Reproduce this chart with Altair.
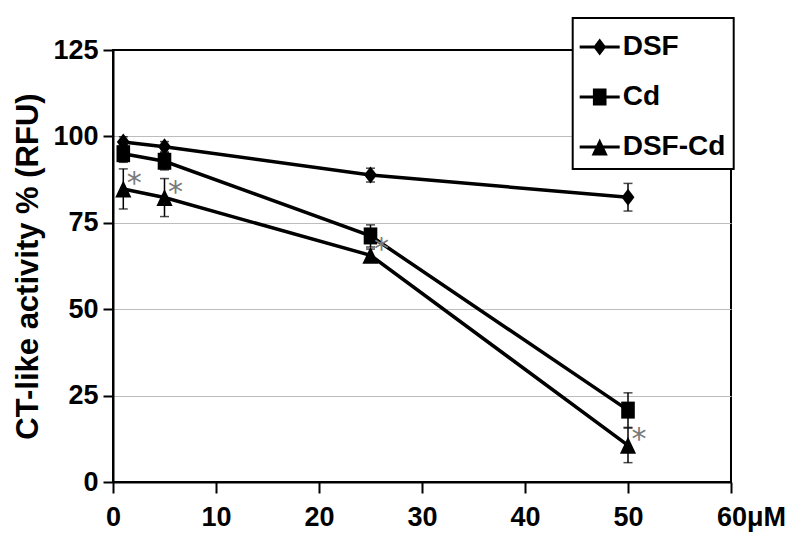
import altair as alt
import pandas as pd

# ---- data ----
series = ["DSF", "Cd", "DSF-Cd"]
conc = [1, 5, 25, 50]
dsf = [98.4, 97.0, 88.8, 82.4]
dsf_err = [1.5, 1.5, 2.0, 4.0]
cd = [95.0, 92.8, 71.2, 20.8]
cd_err = [2.5, 2.5, 3.2, 5.0]
dsfcd = [84.8, 82.3, 65.6, 10.6]
dsfcd_err = [5.8, 5.5, 1.8, 5.0]
signif = [True, True, True, True]  # asterisks on DSF-Cd points

x_ticks = [0, 10, 20, 30, 40, 50, 60]
y_ticks = [0, 25, 50, 75, 100, 125]

rows = []
for name, vals, errs in [("DSF", dsf, dsf_err), ("Cd", cd, cd_err), ("DSF-Cd", dsfcd, dsfcd_err)]:
    for c, v, e in zip(conc, vals, errs):
        rows.append({"series": name, "conc": c, "val": v, "lo": v - e, "hi": v + e})
df = pd.DataFrame(rows)
star_df = pd.DataFrame({"conc": conc, "val": dsfcd, "sig": signif})
star_df = star_df[star_df["sig"]]

FONT = "Liberation Sans"

# marker shapes (plot) and legend symbols (line + marker)
plot_shapes = [
    "M0,-1L0.76,0L0,1L-0.76,0Z",
    "M-0.8,-1H0.8V1H-0.8Z",
    "M0,-1L0.95,1H-0.95Z",
]
line_part = "M-1.048,-0.07H0.857V0.07H-1.048Z"
legend_shapes = [
    line_part + "M-0.095,-0.405L0.212,0L-0.095,0.405L-0.402,0Z",
    line_part + "M-0.419,-0.405H0.229V0.405H-0.419Z",
    line_part + "M-0.095,-0.405L0.29,0.405H-0.48Z",
]

x_enc = alt.X(
    "conc:Q",
    scale=alt.Scale(domain=[0, 60], nice=False),
    axis=alt.Axis(
        values=x_ticks,
        title=None,
        grid=False,
        labelFlush=False,
        labelExpr="datum.value == 60 ? '60μM' : datum.label",
        labelOffset={"condition": {"test": "datum.value == 60", "value": 20}, "value": 0},
        labelFontSize=27,
        labelFont=FONT,
        labelFontWeight="bold",
        labelColor="black",
        labelPadding=11,
        tickSize=11,
        tickWidth=2,
        tickColor="black",
        domainColor="black",
        domainWidth=2,
    ),
)
y_scale = alt.Scale(domain=[0, 125], nice=False)
y_axis = alt.Axis(
    values=y_ticks,
    title="CT-like activity % (RFU)",
    titleFont=FONT,
    titleFontSize=31,
    titleFontWeight="bold",
    titleColor="black",
    titlePadding=8,
    grid=True,
    gridColor="#bdbdbd",
    gridWidth=1,
    gridOpacity={"condition": {"test": "datum.value == 0 || datum.value == 125", "value": 0}, "value": 1},
    labelFlush=False,
    labelFontSize=27,
    labelFont=FONT,
    labelFontWeight="bold",
    labelColor="black",
    labelPadding=5,
    tickSize=10,
    tickWidth=2,
    tickColor="black",
    domainColor="black",
    domainWidth=2,
)

base = alt.Chart(df)

err_rule = base.mark_rule(color="black", strokeWidth=1.5).encode(
    x=x_enc,
    y=alt.Y("lo:Q", scale=y_scale, axis=y_axis),
    y2="hi:Q",
)
cap_hi = base.mark_tick(color="black", thickness=1.5, size=9, orient="horizontal").encode(
    x="conc:Q", y="hi:Q"
)
cap_lo = base.mark_tick(color="black", thickness=1.5, size=9, orient="horizontal").encode(
    x="conc:Q", y="lo:Q"
)
lines = base.mark_line(color="black", strokeWidth=3.5).encode(
    x="conc:Q", y="val:Q", detail="series:N"
)
points = base.mark_point(filled=True, color="black", opacity=1, size=289).encode(
    x="conc:Q",
    y="val:Q",
    shape=alt.Shape("series:N", scale=alt.Scale(domain=series, range=plot_shapes), legend=None),
)
stars = alt.Chart(star_df).mark_text(
    text="*", color="#7a7a7a", fontSize=30, font="DejaVu Sans", dx=11, dy=-5, baseline="middle", align="center"
).encode(x="conc:Q", y="val:Q")

legend_layer = base.transform_filter("false").mark_point(
    filled=True, color="black", opacity=1, size=1764
).encode(
    x="conc:Q",
    y="val:Q",
    shape=alt.Shape(
        "series:N",
        scale=alt.Scale(domain=series, range=legend_shapes),
        legend=alt.Legend(
            title=None,
            orient="none",
            legendX=459.7,
            legendY=-32,
            padding=8,
            rowPadding=15,
            labelOffset=0,
            labelFont=FONT,
            labelFontSize=28,
            labelFontWeight="bold",
            labelColor="black",
            symbolSize=1764,
            symbolFillColor="black",
            symbolStrokeWidth=0,
            symbolOpacity=1,
            strokeColor="black",
            fillColor="white",
        ),
    ),
)

chart = (
    alt.layer(err_rule, cap_hi, cap_lo, lines, points, stars, legend_layer)
    .resolve_scale(shape="independent")
    .properties(
        width=618,
        height=432,
        autosize=alt.AutoSizeParams(type="none"),
        padding={"left": 105, "top": 42, "right": 61, "bottom": 56},
        background="white",
    )
    .configure_view(stroke="black", strokeWidth=2)
    .configure_legend(strokeWidth=2)
)

chart.save("out.html", embed_options={"renderer": "svg", "actions": False})
